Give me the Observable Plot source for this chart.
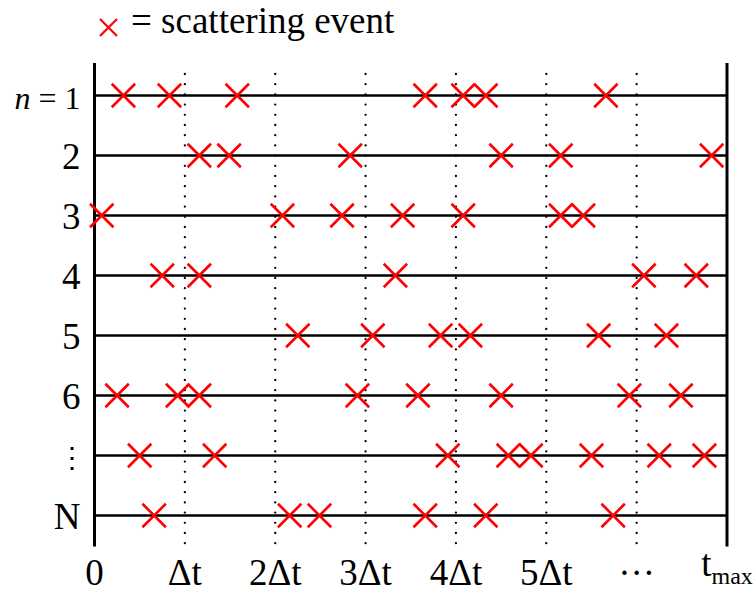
<!DOCTYPE html>
<html>
<head>
<meta charset="utf-8">
<script src="https://cdn.jsdelivr.net/npm/d3@7"></script>
<script src="https://cdn.jsdelivr.net/npm/@observablehq/plot@0.6"></script>
<style>
  html, body { margin: 0; padding: 0; background: #fff; }
  body { width: 755px; height: 596px; overflow: hidden; font-family: 'Liberation Serif', 'Times New Roman', serif; }
  svg { display: block; }
  svg text, svg tspan { font-family: 'Liberation Serif', 'Times New Roman', serif !important; }
</style>
</head>
<body>
<svg id="legend" width="755" height="50">
  <path d="M100,19L117,36M117,19L100,36" stroke="#ff0000" stroke-width="2.2" fill="none"/>
  <text x="131" y="33" style="font-family: 'Liberation Serif', 'Times New Roman', serif; font-size: 37px;" fill="#000">= scattering event</text>
</svg>
<div id="chart"></div>
<script>
// Row labels (n = 1 ... N)
const rowLabels = ["n = 1", "2", "3", "4", "5", "6", "⋮", "N"];

// Scattering event times per row, in units of Δt
const row1Events = [0.32, 0.83, 1.58, 3.66, 4.08, 4.33, 5.66];
const row2Events = [1.16, 1.49, 2.83, 4.50, 5.16, 6.83];
const row3Events = [0.08, 2.08, 2.74, 3.41, 4.08, 5.16, 5.41];
const row4Events = [0.75, 1.16, 3.33, 6.08, 6.66];
const row5Events = [2.25, 3.08, 3.83, 4.16, 5.58, 6.33];
const row6Events = [0.25, 0.92, 1.16, 2.91, 3.58, 4.50, 5.92, 6.49];
const rowDotsEvents = [0.50, 1.33, 3.91, 4.58, 4.83, 5.50, 6.25, 6.75];
const rowNEvents = [0.66, 2.16, 2.49, 3.66, 4.33, 5.74];

// Time axis
const tickValues = [0, 1, 2, 3, 4, 5, 6, 7];
const tickLabels = ["0", "Δt", "2Δt", "3Δt", "4Δt", "5Δt", "···", "tmax"];
const boundaryTimes = [0, 7];
const gridTimes = [1, 2, 3, 4, 5, 6];

const allRows = [row1Events, row2Events, row3Events, row4Events, row5Events, row6Events, rowDotsEvents, rowNEvents];
const events = allRows.flatMap((arr, i) => arr.map(t => ({t, row: rowLabels[i]})));

const chart = Plot.plot({
  width: 755,
  height: 546,
  marginTop: 13,
  marginBottom: 49.5,
  marginLeft: 94,
  marginRight: 28.5,
  style: {fontFamily: "'Liberation Serif', 'Times New Roman', serif", background: "#fff", color: "#000"},
  x: {domain: [0, 7], axis: null},
  y: {type: "point", domain: rowLabels, axis: null},
  marks: [
    Plot.ruleX(gridTimes, {x: d => d, stroke: "#000", strokeWidth: 2.3, strokeDasharray: "0 10.2", strokeLinecap: "round", insetTop: 11, insetBottom: -3}),
    Plot.ruleY(rowLabels, {y: d => d, x1: 0, x2: 7, stroke: "#000", strokeWidth: 2.6}),
    Plot.ruleX(boundaryTimes, {x: d => d, stroke: "#000", strokeWidth: 3}),
    Plot.dot(events, {x: "t", y: "row", symbol: "times", r: 10.7, stroke: "#ff0000", strokeWidth: 2.6}),
    Plot.text(rowLabels, {y: d => d, text: d => d, frameAnchor: "left", textAnchor: "end", lineAnchor: "bottom", dx: -14, dy: 13, fontSize: 37, fill: "#000"}),
    Plot.text(tickValues, {x: d => d, text: (d, i) => tickLabels[i], frameAnchor: "bottom", lineAnchor: "bottom", dy: 37.5, fontSize: 37, fill: "#000"})
  ]
});

document.getElementById("chart").appendChild(chart);

// Typographic touches: italic n in "n = 1", subscript in t_max, smaller vertical ellipsis
d3.select(chart).selectAll("text").each(function() {
  const el = d3.select(this);
  const txt = this.textContent;
  if (txt === "n = 1") {
    el.text(null).attr("font-size", 32);
    el.append("tspan").attr("font-style", "italic").text("n");
    el.append("tspan").text(" = 1");
  } else if (txt === "tmax") {
    el.text(null);
    el.append("tspan").attr("dy", -9).text("t");
    el.append("tspan").attr("font-size", 24).attr("dy", 8).text("max");
  } else if (txt === "⋮") {
    el.attr("font-size", 28).attr("text-anchor", "middle").attr("dx", -9).attr("dy", -2);
  }
});
</script>
</body>
</html>
